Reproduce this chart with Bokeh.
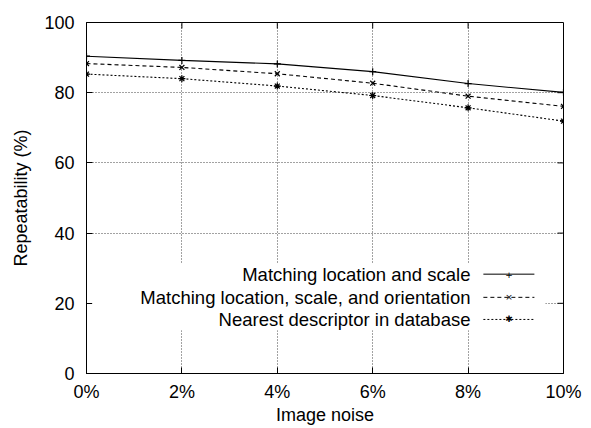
from bokeh.plotting import figure
from bokeh.models import Range1d, BoxAnnotation, Label, Arrow, FixedTicker
from bokeh.embed import file_html
from bokeh.resources import INLINE

# ---- data ----
noise = [0, 2, 4, 6, 8, 10]
x_tick_labels = ["0%", "2%", "4%", "6%", "8%", "10%"]
y_ticks = [0, 20, 40, 60, 80, 100]
loc_scale = [90.4, 89.2, 88.2, 86.0, 82.6, 80.1]
loc_scale_orient = [88.3, 87.2, 85.4, 82.7, 79.0, 76.1]
nearest_db = [85.3, 84.0, 81.9, 79.2, 75.7, 71.9]
series_names = ["Matching location and scale",
                "Matching location, scale, and orientation",
                "Nearest descriptor in database"]

FONT = "Liberation Sans"
X0, X1, Y0, Y1 = 0, 10, 0, 100
FW, FH = 477, 351

p = figure(frame_width=FW, frame_height=FH,
           min_border_left=86, min_border_right=20, min_border_top=22, min_border_bottom=47,
           x_range=Range1d(X0, X1), y_range=Range1d(Y0, Y1),
           output_backend="svg", toolbar_location=None, tools="")

p.outline_line_color = "black"
p.outline_line_width = 1
p.background_fill_color = "white"
p.border_fill_color = "white"

# axes
for ax in (p.xaxis[0], p.yaxis[0]):
    ax.axis_line_color = "black"
    ax.major_tick_line_color = "black"
    ax.major_tick_in = 6
    ax.major_tick_out = 0
    ax.minor_tick_line_color = None
    ax.major_label_text_font = FONT
    ax.major_label_text_font_size = "18px"
    ax.major_label_text_color = "black"
    ax.axis_label_text_font = FONT
    ax.axis_label_text_font_size = "18px"
    ax.axis_label_text_font_style = "normal"
    ax.axis_label_text_color = "black"

p.xaxis[0].ticker = FixedTicker(ticks=noise)
p.xaxis[0].major_label_overrides = {n: lab for n, lab in zip(noise, x_tick_labels)}
p.xaxis[0].axis_label = "Image noise"
p.xaxis[0].major_label_standoff = 8
p.xaxis[0].axis_label_standoff = 0

p.yaxis[0].ticker = FixedTicker(ticks=y_ticks)
p.yaxis[0].axis_label = "Repeatability (%)"
p.yaxis[0].major_label_standoff = 12
p.yaxis[0].axis_label_standoff = 10

# mirror ticks (inward, 6px) on the right and top borders
dx = 6 * (X1 - X0) / FW
dy = 6 * (Y1 - Y0) / FH
for t in y_ticks[1:-1]:
    p.add_layout(Arrow(start=None, end=None, x_start=X1, y_start=t, x_end=X1 - dx, y_end=t,
                       line_color="black", line_width=1))
for t in noise[1:-1]:
    p.add_layout(Arrow(start=None, end=None, x_start=t, y_start=Y1, x_end=t, y_end=Y1 - dy,
                       line_color="black", line_width=1))

# grid
p.xgrid.ticker = FixedTicker(ticks=noise)
p.ygrid.ticker = FixedTicker(ticks=y_ticks)
for g in (p.xgrid, p.ygrid):
    g.grid_line_color = "#444444"
    g.grid_line_dash = "1 2"
    g.grid_line_width = 1

# series
styles = [("solid", "cross"), ("4 3", "x"), ("2 2", "asterisk")]
for ys, (dash, marker) in zip([loc_scale, loc_scale_orient, nearest_db], styles):
    p.line(noise, ys, line_color="black", line_width=1.1, line_dash=dash)
    p.scatter(noise, ys, marker=marker, size=7, line_color="black", line_width=1.2)

# legend (gnuplot style: text, then sample)
p.add_layout(BoxAnnotation(left=0.12, right=9.62, bottom=12.3, top=31.4,
                           fill_color="white", fill_alpha=1.0, line_alpha=0))
rows = [28.3, 21.7, 15.4]
mark_chars = ["+", "×", "✱"]
for name, yy, (dash, _), ch in zip(series_names, rows, styles, mark_chars):
    p.add_layout(Label(x=8.05, y=yy, text=name, text_align="right", text_baseline="middle",
                       text_font=FONT, text_font_size="18.5px", text_color="black"))
    p.add_layout(Arrow(start=None, end=None, x_start=8.32, y_start=yy, x_end=9.39, y_end=yy,
                       line_color="black", line_width=1, line_dash=dash))
    p.add_layout(Label(x=8.86, y=yy, text=ch, text_align="center", text_baseline="middle",
                       text_font="DejaVu Sans", text_font_size="9px", text_color="black"))

open("out.html", "w").write(file_html(p, INLINE))
